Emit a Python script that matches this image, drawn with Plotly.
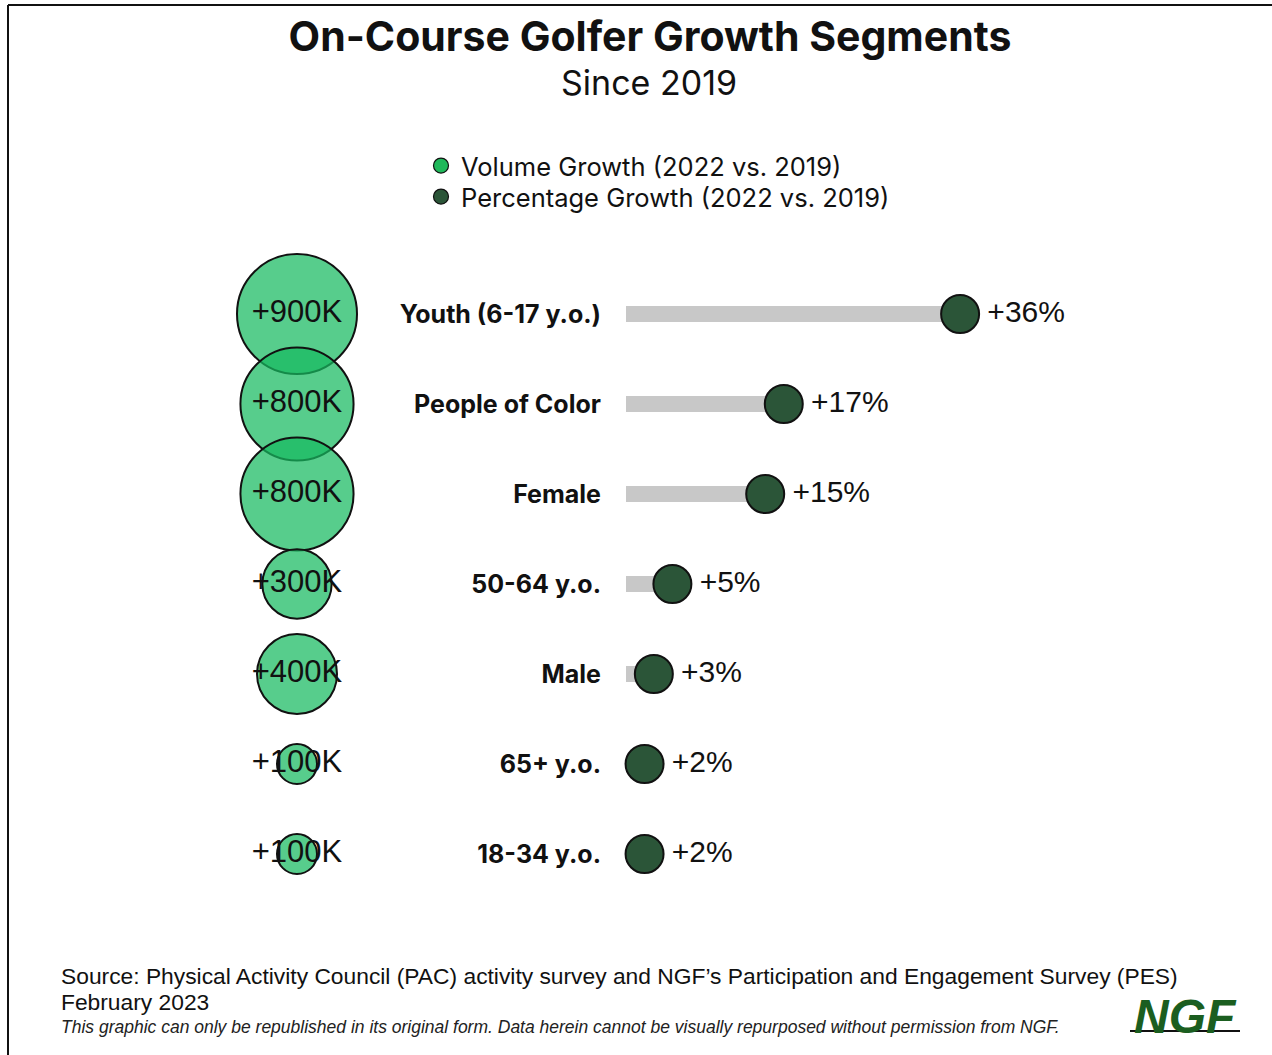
import plotly.graph_objects as go

# data
segments = ["Youth (6-17 y.o.)", "People of Color", "Female", "50-64 y.o.",
            "Male", "65+ y.o.", "18-34 y.o."]
volume_k = [900, 800, 800, 300, 400, 100, 100]      # volume growth, thousands
pct_growth = [36, 17, 15, 5, 3, 2, 2]                # percentage growth

W, H = 1272, 1055
VOL_GREEN = "rgba(22,186,95,0.72)"
DARK_GREEN = "#2b5538"


def px_x(p):
    return p / W


def px_y(p):
    return 1 - p / H


fig = go.Figure()

# grey stems behind the percentage dots
fig.add_trace(go.Bar(
    x=pct_growth, y=segments, orientation="h",
    width=0.18, marker_color="#c8c8c8", marker_line_width=0,
    showlegend=False, hoverinfo="skip",
))

# volume bubbles (area sized)
fig.add_trace(go.Scatter(
    x=[0] * len(segments), y=segments, xaxis="x2", yaxis="y",
    mode="markers+text", showlegend=False,
    text=[f"+{v}K" for v in volume_k],
    textposition="middle center",
    textfont=dict(family="Liberation Sans, Arial", size=31, color="#111"),
    marker=dict(size=volume_k, sizemode="area",
                sizeref=2 * max(volume_k) / 120 ** 2, opacity=1,
                color=VOL_GREEN, line=dict(color="#111", width=2)),
    cliponaxis=False,
))

# percentage dots
fig.add_trace(go.Scatter(
    x=pct_growth, y=segments,
    mode="markers+text", showlegend=False,
    text=[f"\u200a+{v}%" for v in pct_growth],
    textposition="middle right",
    textfont=dict(family="Liberation Sans, Arial", size=30, color="#111"),
    marker=dict(size=38, color=DARK_GREEN, line=dict(color="#111", width=2)),
    cliponaxis=False,
))

# legend entries (solid swatches as in the original key)
fig.add_trace(go.Scatter(
    x=[None], y=[None], mode="markers", name="Volume Growth (2022 vs. 2019)",
    marker=dict(size=15, color="#1fb85a", line=dict(color="#111", width=1.2)),
    legend="legend",
))
fig.add_trace(go.Scatter(
    x=[None], y=[None], mode="markers", name="Percentage Growth (2022 vs. 2019)",
    marker=dict(size=15, color=DARK_GREEN, line=dict(color="#111", width=1.2)),
    legend="legend2",
))

legend_style = dict(xanchor="left", yanchor="middle",
                    font=dict(family="Inter", size=25.5, color="#111"),
                    bgcolor="rgba(0,0,0,0)")

fig.update_layout(
    width=W, height=H,
    margin=dict(l=0, r=0, t=0, b=0),
    paper_bgcolor="white", plot_bgcolor="white",
    bargap=0,
    title=dict(
        text="<b>On-Course Golfer Growth Segments</b>",
        x=px_x(650), xanchor="center", y=px_y(37), yanchor="middle",
        font=dict(family="Inter", size=41, color="#111", weight=800),
    ),
    xaxis=dict(domain=[px_x(626), 0.9], range=[0, 55.9],
               visible=False, fixedrange=True),
    xaxis2=dict(domain=[px_x(257), px_x(337)], range=[-1, 1],
                anchor="y", visible=False),
    yaxis=dict(domain=[px_y(899), px_y(269)],
               type="category", categoryorder="array", categoryarray=segments,
               range=[len(segments) - 0.5, -0.5], autorange=False,
               showgrid=False, zeroline=False, showline=False, ticks="",
               ticklabelstandoff=24,
               tickfont=dict(family="Inter", size=25, color="#111",
                             weight="bold")),
    legend=dict(x=px_x(421), y=px_y(166), **legend_style),
    legend2=dict(x=px_x(421), y=px_y(197), **legend_style),
)

fig.add_annotation(text="Since 2019", xref="paper", yref="paper",
                   x=px_x(649), y=px_y(82), xanchor="center", yanchor="middle",
                   showarrow=False,
                   font=dict(family="Inter", size=34, color="#111"))

foot = dict(xref="paper", yref="paper", xanchor="left", yanchor="middle",
            showarrow=False)
fig.add_annotation(
    text="Source: Physical Activity Council (PAC) activity survey and NGF’s "
         "Participation and Engagement Survey (PES)",
    x=px_x(59), y=px_y(976),
    font=dict(family="Liberation Sans, Arial", size=22.8, color="#111"), **foot)
fig.add_annotation(
    text="February 2023", x=px_x(59), y=px_y(1002),
    font=dict(family="Liberation Sans, Arial", size=22.8, color="#111"), **foot)
fig.add_annotation(
    text="<i>This graphic can only be republished in its original form. "
         "Data herein cannot be visually repurposed without permission from NGF.</i>",
    x=px_x(59), y=px_y(1027),
    font=dict(family="Liberation Sans, Arial", size=17.5, color="#222"), **foot)

# NGF wordmark
fig.add_annotation(text="<b><i>NGF</i></b>", xref="paper", yref="paper",
                   x=px_x(1185), y=px_y(1016), xanchor="center", yanchor="middle",
                   showarrow=False,
                   font=dict(family="Liberation Sans, Arial", size=48,
                             color="#1b5e20"))
fig.add_shape(type="line", xref="paper", yref="paper",
              x0=px_x(1130), x1=px_x(1240), y0=px_y(1031), y1=px_y(1031),
              line=dict(color="#111", width=2))

# frame lines (left and top)
fig.add_shape(type="line", xref="paper", yref="paper",
              x0=px_x(8), x1=px_x(8), y0=px_y(5), y1=0,
              line=dict(color="#111", width=2))
fig.add_shape(type="line", xref="paper", yref="paper",
              x0=px_x(8), x1=1, y0=px_y(5), y1=px_y(5),
              line=dict(color="#111", width=2))

# drop the default page margin so the figure sits at the window origin
fig.write_html("out.html", config={"displayModeBar": False},
               post_script="document.body.style.margin='0';")
